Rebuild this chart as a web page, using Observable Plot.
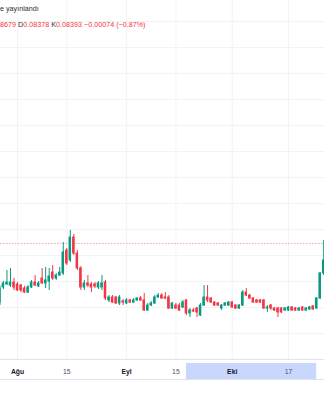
<!DOCTYPE html>
<html><head><meta charset="utf-8">
<script src="https://cdn.jsdelivr.net/npm/d3@7"></script>
<script src="https://cdn.jsdelivr.net/npm/@observablehq/plot@0.6"></script>
<style>
html,body{margin:0;padding:0;background:#fff;}
#wrap{position:relative;width:324px;height:400px;overflow:hidden;font-family:"Liberation Sans",Arial,sans-serif;}
#wrap svg{display:block;}
.hdr{position:absolute;white-space:nowrap;font-size:7.2px;line-height:1;}
</style></head><body>
<div id="wrap">
<div id="chart"></div>
<div id="axis"></div>
<div class="hdr" id="h1" style="left:0;top:5px;color:#2a2e39"></div>
<div class="hdr" id="h2" style="left:0;top:21px;"></div>
</div>
<script>
// Daily candles, first candle on this date
const firstDay = "2023-07-27";
const open = [
0.07938,0.08054,0.08077,0.08069,0.08092,0.08077,0.08069,0.08046,0.08015,0.08054,
0.08092,0.08062,0.08123,0.08085,0.08100,0.08169,0.08123,0.08146,0.08162,0.08338,
0.08262,0.08438,0.08315,0.08200,0.08054,0.08085,0.08077,0.08077,0.08054,0.08054,
0.08092,0.07954,0.07977,0.07977,0.07931,0.07946,0.07931,0.07954,0.07938,0.07954,
0.07969,0.07954,0.07877,0.07915,0.07931,0.07977,0.07992,0.07977,0.07977,0.07892,
0.07915,0.07915,0.07900,0.07954,0.07854,0.07877,0.07892,0.07838,0.07915,0.07977,
0.07969,0.07938,0.07931,0.07892,0.07915,0.07915,0.07938,0.07915,0.07892,0.07915,
0.08015,0.07992,0.07969,0.07954,0.07954,0.07954,0.07892,0.07915,0.07892,0.07892,
0.07892,0.07877,0.07877,0.07900,0.07892,0.07877,0.07900,0.07877,0.07885,0.07908,
0.07892,0.07969,0.08162];
const high = [
0.08069,0.08100,0.08185,0.08200,0.08123,0.08092,0.08077,0.08062,0.08069,0.08108,
0.08146,0.08100,0.08200,0.08208,0.08200,0.08223,0.08162,0.08208,0.08400,0.08354,
0.08492,0.08462,0.08338,0.08215,0.08108,0.08146,0.08092,0.08092,0.08100,0.08146,
0.08108,0.07992,0.07992,0.07985,0.07992,0.07962,0.07969,0.07962,0.07969,0.07977,
0.07985,0.08008,0.07931,0.07946,0.07992,0.08008,0.08008,0.08015,0.07992,0.07938,
0.07931,0.07931,0.07954,0.07962,0.07892,0.07892,0.07900,0.07931,0.08069,0.08069,
0.07977,0.07946,0.07938,0.07923,0.07938,0.07946,0.07946,0.07923,0.07923,0.08031,
0.08046,0.08000,0.07977,0.07962,0.07962,0.07962,0.07915,0.07923,0.07900,0.07900,
0.07900,0.07900,0.07908,0.07908,0.07900,0.07900,0.07908,0.07900,0.07908,0.07915,
0.07977,0.08169,0.08415];
const low = [
0.07915,0.08038,0.08069,0.08054,0.08031,0.08023,0.08015,0.08008,0.08008,0.08046,
0.08062,0.08054,0.08077,0.08046,0.08031,0.08108,0.08108,0.08138,0.08146,0.08223,
0.08246,0.08300,0.08185,0.08031,0.08031,0.08054,0.08015,0.08046,0.08038,0.08031,
0.07954,0.07938,0.07931,0.07923,0.07915,0.07915,0.07923,0.07931,0.07931,0.07946,
0.07946,0.07869,0.07869,0.07908,0.07923,0.07969,0.07962,0.07962,0.07885,0.07885,
0.07885,0.07869,0.07892,0.07838,0.07823,0.07862,0.07823,0.07831,0.07908,0.07938,
0.07931,0.07908,0.07908,0.07877,0.07908,0.07908,0.07892,0.07885,0.07885,0.07908,
0.07985,0.07962,0.07931,0.07931,0.07931,0.07885,0.07862,0.07877,0.07869,0.07823,
0.07854,0.07869,0.07869,0.07869,0.07869,0.07869,0.07869,0.07869,0.07877,0.07877,
0.07885,0.07962,0.08146];
const close = [
0.08046,0.08085,0.08092,0.08092,0.08054,0.08031,0.08031,0.08015,0.08054,0.08092,
0.08069,0.08085,0.08085,0.08108,0.08138,0.08123,0.08146,0.08169,0.08323,0.08238,
0.08438,0.08315,0.08200,0.08054,0.08085,0.08069,0.08054,0.08062,0.08085,0.08085,
0.07969,0.07977,0.07938,0.07931,0.07977,0.07938,0.07954,0.07938,0.07954,0.07969,
0.07954,0.07877,0.07915,0.07931,0.07977,0.07992,0.07969,0.07969,0.07892,0.07931,
0.07892,0.07877,0.07938,0.07854,0.07877,0.07869,0.07862,0.07915,0.07977,0.07954,
0.07938,0.07915,0.07915,0.07915,0.07931,0.07938,0.07900,0.07892,0.07915,0.08015,
0.07992,0.07969,0.07938,0.07938,0.07938,0.07892,0.07900,0.07892,0.07877,0.07862,
0.07862,0.07892,0.07900,0.07877,0.07877,0.07892,0.07877,0.07892,0.07900,0.07885,
0.07969,0.08162,0.08262];

// Legend (header) values
const headerLine1 = "e yayınlandı";
const legendParts = [
  {t: "8679", label: false},
  {t: " D", label: true}, {t: "0.08378", label: false},
  {t: " K", label: true}, {t: "0.08393", label: false},
  {t: " −0.00074 (−0.87%)", label: false}
];
const lastPrice = 0.08393;

// Time axis ticks
const tickDates = ["2023-08-01","2023-08-15","2023-09-01","2023-09-15","2023-10-01","2023-10-17"];
const tickLabels = ["Ağu","15","Eyl","15","Eki","17"];
const tickIsMonth = [true,false,true,false,true,false];
const gridPrices = [0.077,0.079,0.081,0.083,0.085,0.087,0.089,0.091,0.093,0.095,0.097,0.099,0.101];
const highlightRange = ["2023-09-18","2023-10-25"];

const up = "#089981", down = "#f23645";
const start = new Date(firstDay + "T00:00:00Z");
const dates = d3.utcDay.range(start, d3.utcDay.offset(start, open.length));
const candles = dates.map((date, i) => ({date, open: open[i], high: high[i], low: low[i], close: close[i]}));
const col = d => d.close >= d.open ? up : down;
const half = 0.36 * 864e5;

const xDomain = [new Date("2023-07-27T04:00:00Z"), new Date("2023-10-27T05:20:00Z")];
const yDomain = [0.075, 0.075 + 359 / 13000];
const ticks = tickDates.map((s, i) => ({date: new Date(s + "T00:00:00Z"), label: tickLabels[i], month: tickIsMonth[i]}));

const main = Plot.plot({
  width: 324, height: 360, margin: 0,
  style: {background: "#fff"},
  x: {type: "utc", domain: xDomain, range: [0, 324], axis: null},
  y: {domain: yDomain, range: [359, 0], axis: null},
  marks: [
    Plot.ruleY(gridPrices, {stroke: "#f2f3f6"}),
    Plot.ruleX(ticks, {x: "date", stroke: "#f2f3f6"}),
    Plot.ruleY([lastPrice], {stroke: "#f5a3ab", strokeDasharray: "1.5,1.5"}),
    Plot.ruleX(candles, {x: "date", y1: "low", y2: "high", stroke: col, strokeWidth: 1}),
    Plot.rect(candles, {
      x1: d => new Date(+d.date - half), x2: d => new Date(+d.date + half),
      y1: "open", y2: "close", fill: col, insetTop: -0.5, insetBottom: -0.5
    }),
    Plot.ruleY([yDomain[0]], {stroke: "#e0e3eb"})
  ]
});
document.getElementById("chart").append(main);

const axis = Plot.plot({
  width: 324, height: 40, marginTop: 3, marginBottom: 21, marginLeft: 0, marginRight: 0,
  style: {background: "#fff", fontFamily: "Liberation Sans, Arial, sans-serif"},
  x: {type: "utc", domain: xDomain, range: [0, 324], axis: null},
  marks: [
    Plot.rect([highlightRange], {x1: d => new Date(d[0] + "T00:00:00Z"), x2: d => new Date(d[1] + "T00:00:00Z"), fill: "#c9d6fd"}),
    Plot.frame({anchor: "bottom", stroke: "#e0e3eb"}),
    Plot.text(ticks.filter(d => d.month), {x: "date", text: "label", frameAnchor: "middle", fontSize: 6.8, fontWeight: "bold", fill: "#131722"}),
    Plot.text(ticks.filter(d => !d.month), {x: "date", text: "label", frameAnchor: "middle", fontSize: 6.8, fill: "#50535e"})
  ]
});
document.getElementById("axis").append(axis);

document.getElementById("h1").textContent = headerLine1;
const h2 = document.getElementById("h2");
for (const p of legendParts) {
  const s = document.createElement("span");
  s.textContent = p.t;
  s.style.color = p.label ? "#2a2e39" : "#f23645";
  h2.append(s);
}
</script>
</body></html>
